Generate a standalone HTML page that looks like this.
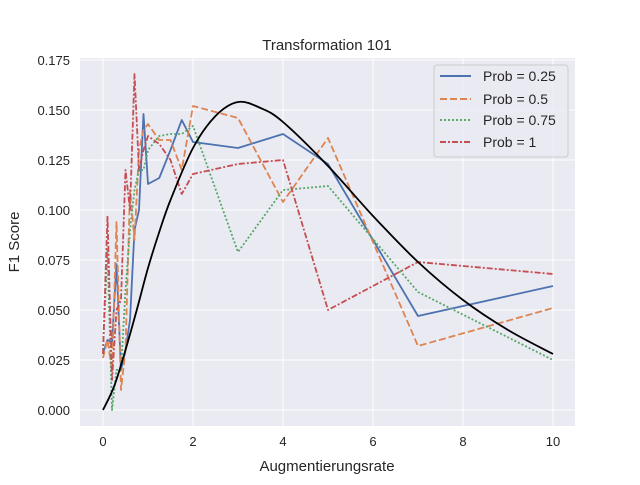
<!DOCTYPE html>
<html><head><meta charset="utf-8"><style>
body{margin:0;background:#fff;font-family:"Liberation Sans",sans-serif}
svg text{font-family:"Liberation Sans",sans-serif;fill:#262626}
.tick{font-size:13px}
.lab{font-size:15px}
.leg{font-size:14px}
</style></head><body>
<svg id="chart" width="640" height="480" xmlns="http://www.w3.org/2000/svg">
<rect x="80" y="58" width="495" height="368" fill="#eaeaf2"/>
<g id="grid"></g><g id="series"></g><g id="ticks"></g>
<text class="lab" x="327" y="50" text-anchor="middle">Transformation 101</text>
<text class="lab" x="327" y="471" text-anchor="middle">Augmentierungsrate</text>
<text class="lab" transform="translate(19,242) rotate(-90)" text-anchor="middle">F1 Score</text>
<g>
<rect x="434" y="65" width="134" height="92" rx="3" fill="#eaeaf2" fill-opacity="0.8" stroke="#cccccc"/>
<line x1="440" y1="76" x2="471" y2="76" stroke="#4c72b0" stroke-width="2"/>
<text class="leg" x="483" y="81">Prob = 0.25</text>
<line x1="440" y1="99" x2="471" y2="99" stroke="#dd8452" stroke-width="2" stroke-dasharray="7,3"/>
<text class="leg" x="483" y="104">Prob = 0.5</text>
<line x1="440" y1="120" x2="471" y2="120" stroke="#55a868" stroke-width="2" stroke-dasharray="2,2"/>
<text class="leg" x="483" y="125">Prob = 0.75</text>
<line x1="440" y1="142" x2="471" y2="142" stroke="#c44e52" stroke-width="2" stroke-dasharray="6,2,2,2"/>
<text class="leg" x="483" y="147">Prob = 1</text>
</g>
</svg>
<script>
const xs=[0,0.1,0.2,0.3,0.4,0.5,0.6,0.7,0.8,0.9,1,1.25,1.5,1.75,2,3,4,5,7,10];
const prob025=[0.0285,0.035,0.034,0.073,0.02,0.03,0.045,0.09,0.1,0.148,0.113,0.116,0.13,0.145,0.134,0.131,0.138,0.123,0.047,0.062];
const prob05=[0.026,0.035,0.02,0.094,0.01,0.03,0.11,0.085,0.13,0.14,0.143,0.135,0.135,0.12,0.152,0.146,0.104,0.136,0.032,0.051];
const prob075=[0.03,0.08,0.0,0.02,0.02,0.06,0.09,0.11,0.12,0.12,0.13,0.137,0.138,0.138,0.142,0.079,0.11,0.112,0.059,0.025];
const prob1=[0.028,0.097,0.015,0.05,0.055,0.12,0.1,0.168,0.12,0.13,0.137,0.133,0.125,0.108,0.118,0.123,0.125,0.05,0.074,0.068];
const fitX=[0,0.25,0.5,0.75,1,1.25,1.5,2,2.5,3,3.5,4,5,6,7,8,9,10];
const fitY=[0,0.012,0.03,0.05,0.071,0.089,0.105,0.131,0.147,0.154,0.151,0.144,0.122,0.097,0.074,0.055,0.040,0.028];
const xTicks=[0,2,4,6,8,10];
const yTicks=[0,0.025,0.05,0.075,0.1,0.125,0.15,0.175];
const yTickLabels=["0.000","0.025","0.050","0.075","0.100","0.125","0.150","0.175"];
const X=v=>103+v*45, Y=v=>410-v*2000;
const NS="http://www.w3.org/2000/svg";
const g=document.getElementById('grid'),s=document.getElementById('series'),t=document.getElementById('ticks');
function mk(tag,attrs,parent){const e=document.createElementNS(NS,tag);for(const k in attrs)e.setAttribute(k,attrs[k]);parent.appendChild(e);return e;}
xTicks.forEach(v=>{
 const l=mk('line',{x1:X(v),x2:X(v),y1:58,y2:426,stroke:'#fff','stroke-width':1},g);
 
 
 const tx=mk('text',{x:X(v),y:446,'text-anchor':'middle','class':'tick'},t);tx.textContent=v;
 
 
});
yTicks.forEach((v,i)=>{
 const l=mk('line',{x1:80,x2:575,y1:Y(v),y2:Y(v),stroke:'#fff','stroke-width':1},g);
 
 
 const tx=mk('text',{x:70,y:Y(v)+5,'text-anchor':'end','class':'tick'},t);tx.textContent=yTickLabels[i];
 
 
});
function line(xa,ya,color,dash,name){
 const p=mk('polyline',{points:xa.map((x,i)=>X(x)+','+Y(ya[i])).join(' '),fill:'none',stroke:color,'stroke-width':1.8,'stroke-dasharray':dash,'stroke-linejoin':'round'},s);
 
 
}
line(xs,prob025,'#4c72b0','none','series-prob-0.25');
line(xs,prob05,'#dd8452','7,3','series-prob-0.5');
line(xs,prob075,'#55a868','2,2','series-prob-0.75');
line(xs,prob1,'#c44e52','6,2,2,2','series-prob-1');
(function(){
 const pts=fitX.map((x,i)=>[X(x),Y(fitY[i])]);
 let d='M'+pts[0].join(',');
 for(let i=0;i<pts.length-1;i++){
  const p0=pts[Math.max(i-1,0)],p1=pts[i],p2=pts[i+1],p3=pts[Math.min(i+2,pts.length-1)];
  const c1=[p1[0]+(p2[0]-p0[0])/6,p1[1]+(p2[1]-p0[1])/6],c2=[p2[0]-(p3[0]-p1[0])/6,p2[1]-(p3[1]-p1[1])/6];
  d+=' C'+c1.join(',')+' '+c2.join(',')+' '+p2.join(',');
 }
 const p=mk('path',{d:d,fill:'none',stroke:'#000','stroke-width':1.8},s);
 
 
})();
</script>
</body></html>
